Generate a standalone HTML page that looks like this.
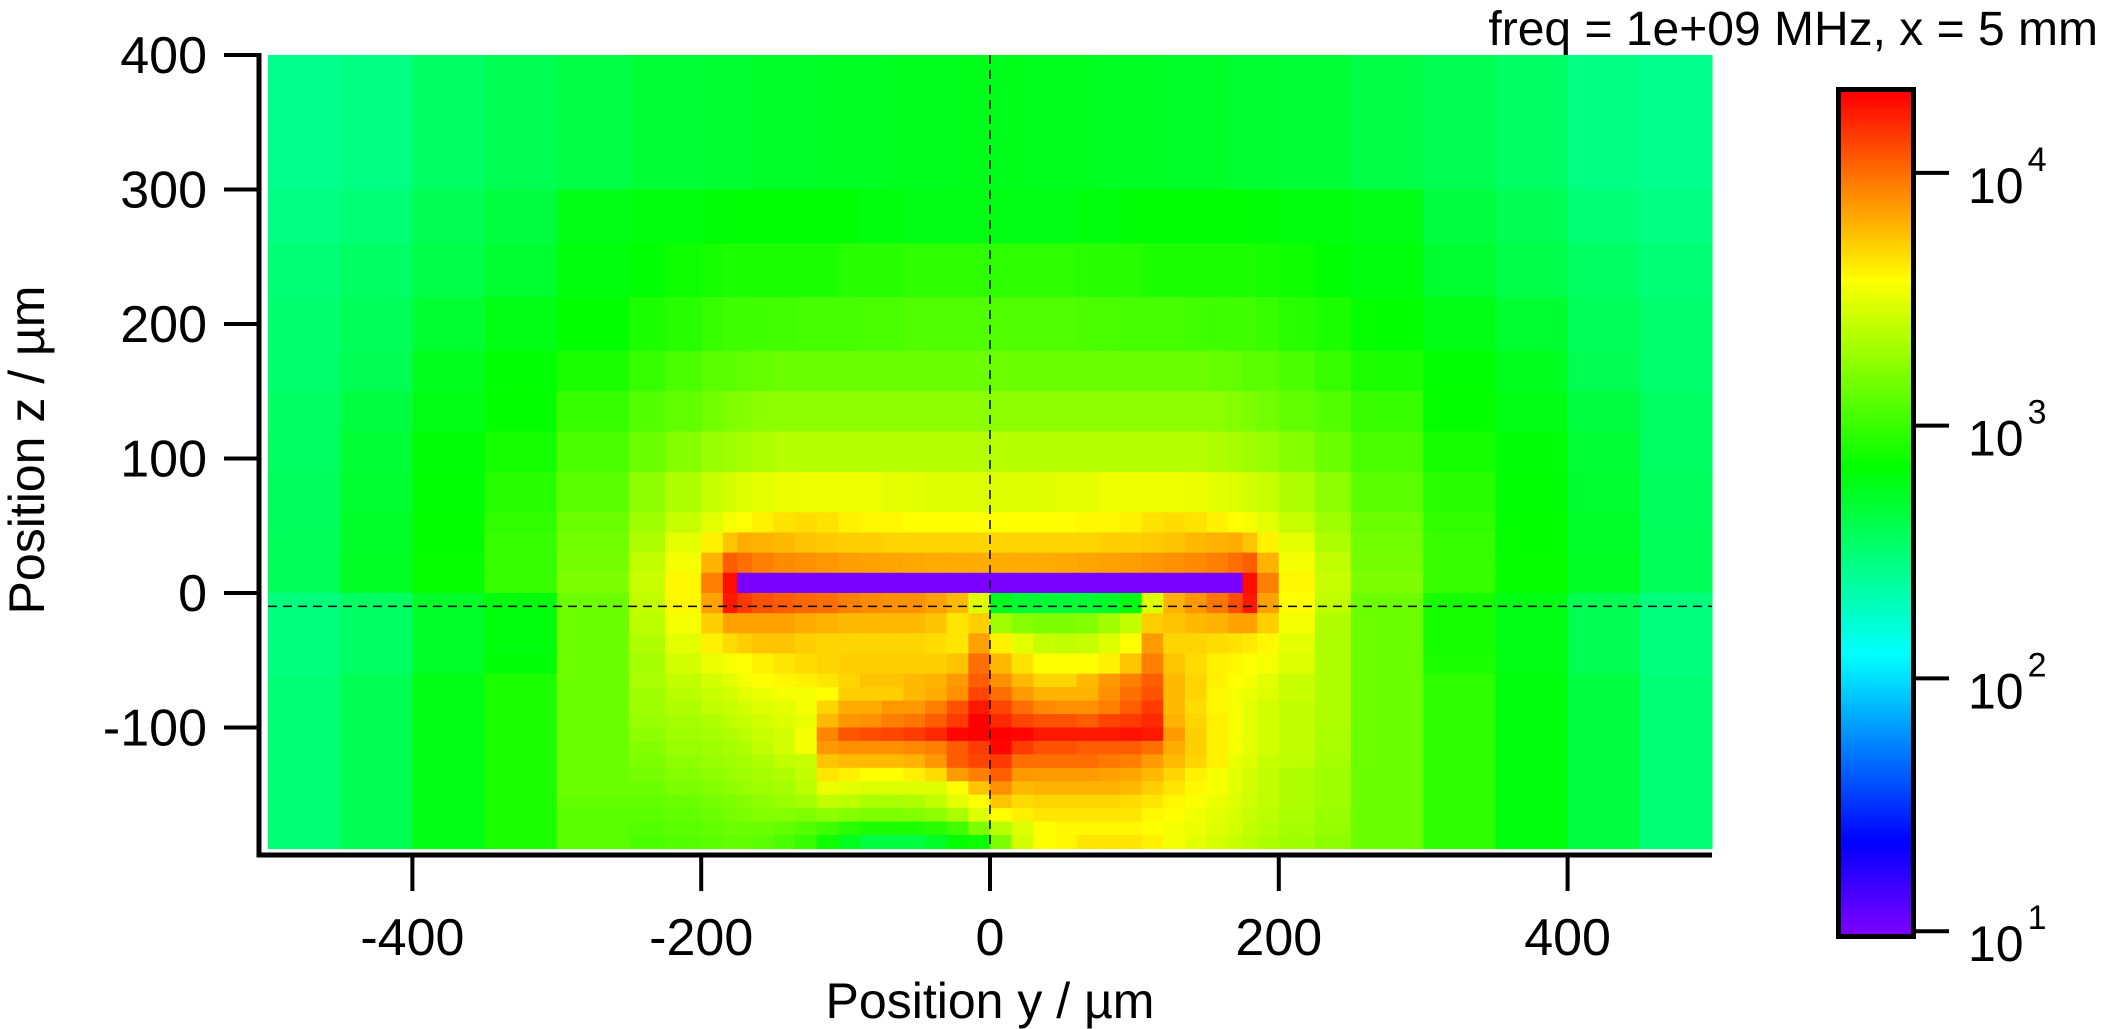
<!DOCTYPE html>
<html><head><meta charset="utf-8">
<style>
html,body{margin:0;padding:0;background:#fff;}
svg{display:block;font-family:"Liberation Sans",Arial,sans-serif;}
</style></head>
<body>
<svg id="chart" xmlns="http://www.w3.org/2000/svg" width="2101" height="1029" viewBox="0 0 2101 1029">
<rect x="0" y="0" width="2101" height="1029" fill="#fff"/>
<g id="cells"></g>
<g id="overlay"></g>
<g id="axes"></g>
<g id="cbar"></g>
<text x="2098" y="45" font-size="48" text-anchor="end" fill="#000">freq = 1e+09 MHz, x = 5 mm</text>
<text x="990" y="1018" font-size="50" text-anchor="middle" fill="#000">Position y / µm</text>
<text x="0" y="0" font-size="50" text-anchor="middle" fill="#000" transform="translate(44,450) rotate(-90)">Position z / µm</text>
</svg>
<script>
// ---- data ----
const yEdges = [-500,-450,-400,-350,-300,-250,-225,-200,-185,-175,-165,-150,-135,-120,-105,-90,-75,-60,-45,-30,-15,0,15,30,45,60,75,90,105,120,135,150,165,175,185,200,225,250,300,350,400,450,500];
const zEdges = [400,300,260,220,180,150,120,90,60,45,30,15,0,-15,-30,-45,-60,-70,-80,-90,-100,-110,-120,-130,-140,-150,-160,-170,-180,-190];
const row0 = [2.43,2.46,2.55,2.6,2.63,2.68,2.68,2.7,2.7,2.7,2.72,2.72,2.72,2.74,2.74,2.74,2.75,2.75,2.75,2.76,2.76,2.76,2.76,2.75,2.75,2.75,2.74,2.74,2.74,2.72,2.72,2.72,2.7,2.7,2.7,2.68,2.68,2.63,2.6,2.55,2.46,2.43];
const row1 = [2.46,2.5,2.6,2.65,2.78,2.8,2.8,2.82,2.83,2.83,2.83,2.83,2.83,2.83,2.83,2.8,2.8,2.78,2.78,2.78,2.78,2.78,2.78,2.78,2.78,2.8,2.8,2.83,2.83,2.83,2.83,2.83,2.83,2.83,2.82,2.8,2.8,2.78,2.65,2.6,2.5,2.46];
const row2 = [2.5,2.55,2.62,2.7,2.8,2.83,2.88,2.9,2.92,2.92,2.92,2.92,2.92,2.92,2.95,2.95,2.95,2.97,2.97,2.97,2.97,2.97,2.97,2.97,2.97,2.95,2.95,2.95,2.92,2.92,2.92,2.92,2.92,2.92,2.9,2.88,2.83,2.8,2.7,2.62,2.55,2.5];
const row3 = [2.52,2.58,2.7,2.78,2.85,2.92,2.95,3.0,3.02,3.02,3.02,3.03,3.04,3.04,3.04,3.05,3.05,3.07,3.07,3.07,3.07,3.07,3.07,3.07,3.07,3.05,3.05,3.04,3.04,3.04,3.03,3.02,3.02,3.02,3.0,2.95,2.92,2.85,2.78,2.7,2.58,2.52];
const row4 = [2.52,2.6,2.75,2.83,2.92,3.0,3.05,3.1,3.1,3.12,3.13,3.15,3.15,3.15,3.15,3.15,3.15,3.15,3.15,3.15,3.15,3.15,3.15,3.15,3.15,3.15,3.15,3.15,3.15,3.15,3.15,3.13,3.12,3.1,3.1,3.05,3.0,2.92,2.83,2.75,2.6,2.52];
const row5 = [2.55,2.65,2.78,2.85,3.0,3.08,3.12,3.17,3.2,3.22,3.24,3.25,3.25,3.25,3.25,3.25,3.25,3.25,3.25,3.25,3.25,3.25,3.25,3.25,3.25,3.25,3.25,3.25,3.25,3.25,3.25,3.24,3.22,3.2,3.17,3.12,3.08,3.0,2.85,2.78,2.65,2.55];
const row6 = [2.56,2.68,2.82,2.9,3.05,3.15,3.22,3.28,3.3,3.32,3.34,3.36,3.36,3.36,3.36,3.36,3.36,3.36,3.36,3.36,3.36,3.36,3.36,3.36,3.36,3.36,3.36,3.36,3.36,3.36,3.36,3.34,3.32,3.3,3.28,3.22,3.15,3.05,2.9,2.82,2.68,2.56];
const row7 = [2.57,2.7,2.83,2.95,3.1,3.25,3.35,3.42,3.45,3.48,3.5,3.52,3.53,3.53,3.53,3.53,3.5,3.5,3.48,3.48,3.48,3.48,3.48,3.48,3.5,3.5,3.53,3.53,3.53,3.53,3.52,3.5,3.48,3.45,3.42,3.35,3.25,3.1,2.95,2.83,2.7,2.57];
const row8 = [2.57,2.72,2.85,2.98,3.15,3.3,3.42,3.5,3.55,3.58,3.62,3.66,3.68,3.66,3.62,3.6,3.6,3.58,3.58,3.58,3.58,3.58,3.58,3.58,3.58,3.6,3.6,3.62,3.66,3.68,3.66,3.62,3.58,3.55,3.5,3.42,3.3,3.15,2.98,2.85,2.72,2.57];
const row9 = [2.58,2.72,2.85,3.0,3.17,3.35,3.5,3.62,3.75,3.82,3.8,3.78,3.75,3.73,3.72,3.72,3.7,3.7,3.7,3.7,3.7,3.7,3.7,3.7,3.7,3.7,3.72,3.72,3.73,3.75,3.78,3.8,3.82,3.75,3.62,3.5,3.35,3.17,3.0,2.85,2.72,2.58];
const row10 = [2.58,2.73,2.86,3.0,3.18,3.4,3.55,3.8,4.05,4.0,3.95,3.92,3.9,3.88,3.86,3.85,3.84,3.83,3.82,3.82,3.82,3.82,3.82,3.82,3.83,3.84,3.85,3.86,3.88,3.9,3.92,3.95,4.0,4.05,3.8,3.55,3.4,3.18,3.0,2.86,2.73,2.58];
const row11 = [2.58,2.73,2.86,3.0,3.2,3.42,3.6,3.95,4.28,1,1,1,1,1,1,1,1,1,1,1,1,1,1,1,1,1,1,1,1,1,1,1,1,4.28,3.95,3.6,3.42,3.2,3.0,2.86,2.73,2.58];
const row12 = [2.47,2.55,2.72,2.8,3.15,3.4,3.6,3.85,4.25,4.15,4.08,4.05,4.02,4.0,3.95,3.92,3.9,3.9,3.85,3.78,3.48,2.75,2.7,2.68,2.68,2.7,2.72,2.8,3.48,3.8,3.88,3.98,4.1,4.25,3.85,3.58,3.4,3.15,2.9,2.78,2.6,2.47];
const row13 = [2.47,2.55,2.72,2.8,3.15,3.38,3.55,3.72,3.85,3.85,3.85,3.85,3.82,3.8,3.78,3.78,3.78,3.78,3.75,3.65,3.72,3.3,3.22,3.2,3.2,3.22,3.3,3.4,3.72,3.75,3.78,3.8,3.85,3.85,3.72,3.55,3.35,3.15,2.9,2.78,2.6,2.47];
const row14 = [2.47,2.55,2.72,2.8,3.15,3.35,3.5,3.62,3.68,3.72,3.75,3.75,3.72,3.7,3.7,3.7,3.7,3.7,3.68,3.65,3.85,3.62,3.5,3.42,3.4,3.42,3.48,3.58,3.87,3.7,3.7,3.68,3.66,3.64,3.6,3.5,3.35,3.15,2.9,2.78,2.6,2.47];
const row15 = [2.47,2.55,2.72,2.82,3.15,3.32,3.45,3.52,3.55,3.58,3.62,3.65,3.68,3.7,3.72,3.72,3.72,3.72,3.72,3.75,4.0,3.78,3.66,3.58,3.58,3.58,3.62,3.75,3.95,3.75,3.68,3.62,3.6,3.58,3.55,3.48,3.35,3.15,2.92,2.78,2.6,2.47];
const row16 = [2.5,2.6,2.78,2.92,3.15,3.33,3.4,3.45,3.5,3.55,3.58,3.6,3.62,3.65,3.7,3.75,3.75,3.78,3.8,3.87,4.05,3.9,3.78,3.7,3.7,3.78,3.87,3.95,4.05,3.78,3.7,3.62,3.58,3.55,3.5,3.42,3.35,3.15,2.97,2.8,2.65,2.5];
const row17 = [2.5,2.6,2.78,2.92,3.15,3.3,3.37,3.42,3.45,3.5,3.52,3.55,3.55,3.58,3.72,3.72,3.72,3.78,3.82,3.9,4.12,4.0,3.87,3.8,3.8,3.8,3.9,4.0,4.08,3.78,3.7,3.6,3.55,3.52,3.48,3.42,3.35,3.15,2.97,2.8,2.65,2.5];
const row18 = [2.5,2.6,2.78,2.92,3.15,3.3,3.35,3.4,3.42,3.45,3.48,3.5,3.55,3.7,3.82,3.82,3.88,3.88,3.95,4.08,4.25,4.12,4.0,3.92,3.9,3.9,3.95,4.05,4.15,3.78,3.68,3.6,3.55,3.5,3.45,3.4,3.35,3.15,2.97,2.8,2.65,2.5];
const row19 = [2.5,2.6,2.78,2.92,3.15,3.28,3.32,3.35,3.38,3.42,3.45,3.48,3.52,3.78,3.88,3.9,3.95,3.98,4.05,4.15,4.32,4.2,4.12,4.08,4.08,4.05,4.12,4.15,4.2,3.8,3.7,3.62,3.55,3.5,3.45,3.4,3.35,3.15,2.97,2.8,2.65,2.5];
const row20 = [2.5,2.6,2.78,2.92,3.15,3.25,3.3,3.32,3.35,3.38,3.42,3.45,3.55,3.93,4.07,4.1,4.12,4.15,4.2,4.3,4.32,4.32,4.3,4.25,4.25,4.25,4.25,4.27,4.25,3.87,3.72,3.62,3.55,3.5,3.45,3.4,3.33,3.15,2.97,2.8,2.65,2.5];
const row21 = [2.5,2.6,2.78,2.92,3.15,3.22,3.28,3.3,3.32,3.35,3.4,3.45,3.55,3.88,3.9,3.9,3.9,3.92,3.95,4.05,4.15,4.3,4.15,4.08,4.08,4.05,4.05,4.05,4.0,3.82,3.72,3.62,3.55,3.5,3.45,3.4,3.33,3.15,2.97,2.8,2.65,2.5];
const row22 = [2.5,2.6,2.78,2.92,3.15,3.2,3.25,3.28,3.3,3.32,3.35,3.4,3.42,3.75,3.78,3.78,3.78,3.8,3.88,4.05,4.12,4.15,4.0,4.0,4.0,4.0,3.97,3.95,3.87,3.78,3.7,3.62,3.52,3.48,3.42,3.38,3.32,3.15,2.97,2.8,2.65,2.5];
const row23 = [2.5,2.6,2.78,2.92,3.15,3.18,3.22,3.25,3.28,3.3,3.32,3.35,3.4,3.65,3.62,3.58,3.58,3.62,3.68,3.87,3.95,4.05,3.88,3.87,3.87,3.87,3.85,3.84,3.78,3.7,3.62,3.55,3.5,3.45,3.4,3.35,3.3,3.15,2.97,2.8,2.65,2.5];
const row24 = [2.5,2.6,2.78,2.92,3.15,3.15,3.2,3.22,3.25,3.28,3.3,3.32,3.38,3.52,3.5,3.48,3.48,3.48,3.48,3.58,3.75,3.9,3.78,3.8,3.8,3.8,3.8,3.78,3.72,3.65,3.6,3.55,3.5,3.45,3.4,3.35,3.3,3.15,2.97,2.8,2.65,2.5];
const row25 = [2.5,2.6,2.78,2.92,3.12,3.12,3.15,3.18,3.2,3.22,3.25,3.28,3.32,3.4,3.38,3.33,3.33,3.35,3.4,3.5,3.58,3.75,3.68,3.7,3.7,3.7,3.7,3.68,3.65,3.6,3.56,3.52,3.48,3.44,3.4,3.35,3.3,3.15,2.97,2.8,2.65,2.5];
const row26 = [2.5,2.6,2.78,2.92,3.1,3.1,3.12,3.15,3.18,3.2,3.22,3.22,3.2,3.25,3.22,3.2,3.2,3.22,3.25,3.33,3.48,3.58,3.62,3.65,3.65,3.65,3.65,3.65,3.6,3.58,3.54,3.5,3.46,3.42,3.38,3.33,3.28,3.15,2.97,2.8,2.65,2.5];
const row27 = [2.5,2.6,2.78,2.92,3.1,3.08,3.1,3.12,3.15,3.15,3.15,3.12,3.08,3.02,2.95,2.92,2.92,2.92,2.95,3.02,3.2,3.37,3.48,3.58,3.6,3.6,3.6,3.6,3.58,3.55,3.52,3.48,3.45,3.4,3.36,3.32,3.27,3.15,2.97,2.8,2.65,2.5];
const row28 = [2.5,2.6,2.78,2.92,3.1,3.05,3.08,3.1,3.12,3.12,3.1,3.05,3.0,2.88,2.75,2.65,2.65,2.65,2.72,2.85,2.88,3.2,3.45,3.58,3.6,3.65,3.65,3.65,3.62,3.55,3.5,3.46,3.42,3.38,3.34,3.3,3.25,3.15,2.97,2.8,2.65,2.5];
const values = [row0,row1,row2,row3,row4,row5,row6,row7,row8,row9,row10,row11,row12,row13,row14,row15,row16,row17,row18,row19,row20,row21,row22,row23,row24,row25,row26,row27,row28];
const xTicks = [-400,-200,0,200,400];
const zTicks = [400,300,200,100,0,-100];
const cbarTicks = [1,2,3,4];
const logMin = 0.985, logMax = 4.32;
const crossY = 0, crossZ = -10;

// ---- scales ----
const X0=268, X1=1712, Y0=55, Y1=848.5;
function xs(v){ return X0 + (v+500)/1000*(X1-X0); }
function zs(v){ return Y0 + (400-v)/590*(Y1-Y0); }
function colorOf(v){
  let f=(v-logMin)/(logMax-logMin); f=Math.max(0,Math.min(1,f));
  return 'hsl('+((1-f)*270).toFixed(1)+',100%,50%)';
}
const NS='http://www.w3.org/2000/svg';
function mk(tag, attrs, parent){
  const e=document.createElementNS(NS,tag);
  for(const k in attrs) e.setAttribute(k,attrs[k]);
  parent.appendChild(e); return e;
}
// ---- cells ----
const cells=document.getElementById('cells');
for(let r=0;r<values.length;r++){
  for(let c=0;c<values[r].length;c++){
    const x=xs(yEdges[c]), x2=xs(yEdges[c+1]);
    const y=zs(zEdges[r]), y2=zs(zEdges[r+1]);
    const e=mk('rect',{x:x.toFixed(2),y:y.toFixed(2),width:(x2-x+0.6).toFixed(2),height:(y2-y+0.6).toFixed(2),fill:colorOf(values[r][c])},cells);
    
    
  }
}
// ---- crosshair ----
const ov=document.getElementById('overlay');
const vl=mk('line',{x1:xs(crossY),x2:xs(crossY),y1:Y0,y2:Y1,stroke:'#000','stroke-width':1.5,'stroke-dasharray':'9,6'},ov);


const hl=mk('line',{x1:X0,x2:X1,y1:zs(crossZ),y2:zs(crossZ),stroke:'#000','stroke-width':1.5,'stroke-dasharray':'9,6'},ov);


// ---- axes ----
const ax=document.getElementById('axes');
const la=mk('line',{x1:259,x2:259,y1:53,y2:857.5,stroke:'#000','stroke-width':5},ax);


const ba=mk('line',{x1:256.5,x2:1712,y1:855,y2:855,stroke:'#000','stroke-width':5},ax);


xTicks.forEach(t=>{
  const tk=mk('line',{x1:xs(t),x2:xs(t),y1:855,y2:891,stroke:'#000','stroke-width':4},ax);
  
  
  const lb=mk('text',{x:xs(t),y:955,'font-size':52,'text-anchor':'middle',fill:'#000'},ax);
  lb.textContent=String(t);
  
  
});
zTicks.forEach(t=>{
  const tk=mk('line',{x1:224,x2:259,y1:zs(t),y2:zs(t),stroke:'#000','stroke-width':4},ax);
  
  
  const lb=mk('text',{x:207,y:zs(t)+18,'font-size':52,'text-anchor':'end',fill:'#000'},ax);
  lb.textContent=String(t);
  
  
});
// ---- colorbar ----
const cb=document.getElementById('cbar');
const CB0=92, CB1=935, CBX=1838.5, CBW=75;
function cs(v){ return CB1 - (v-logMin)/(logMax-logMin)*(CB1-CB0); }
for(let i=0;i<200;i++){
  const v1=logMin+(logMax-logMin)*i/200, v2=logMin+(logMax-logMin)*(i+1)/200;
  const s=mk('rect',{x:CBX,y:cs(v2).toFixed(2),width:CBW,height:(cs(v1)-cs(v2)+0.6).toFixed(2),fill:colorOf((v1+v2)/2)},cb);
  
  
}
const fr=mk('rect',{x:CBX,y:89.5,width:CBW,height:847,fill:'none',stroke:'#000','stroke-width':5},cb);


cbarTicks.forEach(t=>{
  const y=cs(t);
  const tk=mk('line',{x1:1913,x2:1949,y1:y,y2:y,stroke:'#000','stroke-width':4},cb);
  
  
  const lb=mk('text',{x:1968,y:y+30,'font-size':50,fill:'#000'},cb);
  lb.textContent='10';
  
  
  const sp=mk('tspan',{dx:4,dy:-32,'font-size':34},lb);
  sp.textContent=String(t);
});
</script>
</body></html>
